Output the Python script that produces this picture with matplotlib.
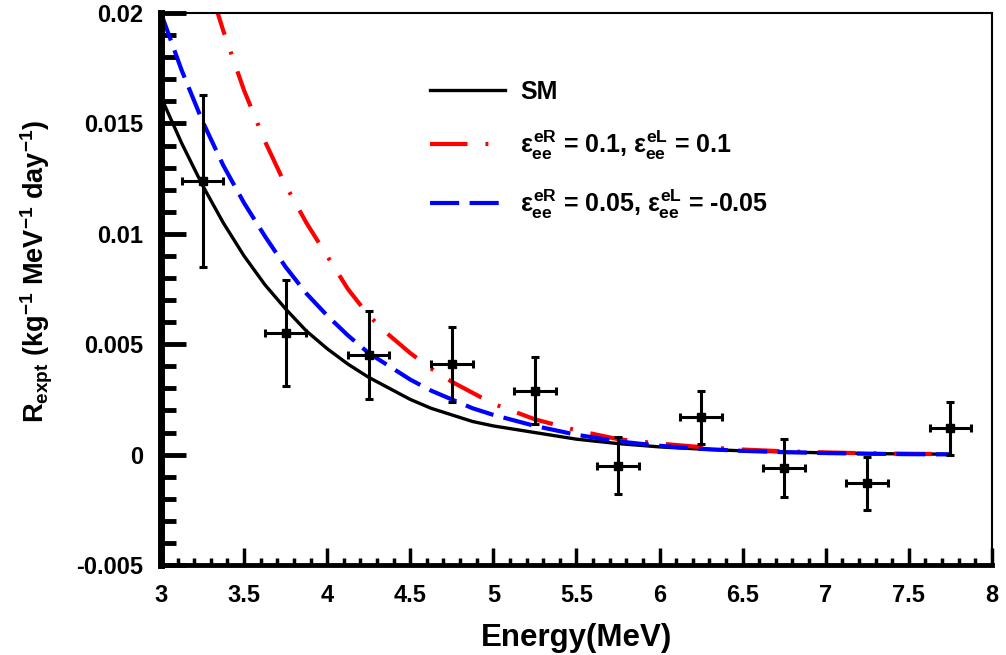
import numpy as np
import matplotlib.pyplot as plt

plt.rcParams['font.family'] = 'Liberation Sans'
plt.rcParams['font.weight'] = 'bold'
plt.rcParams['axes.labelweight'] = 'bold'
plt.rcParams['mathtext.fontset'] = 'custom'
plt.rcParams['mathtext.rm'] = 'Liberation Sans:bold'
plt.rcParams['mathtext.it'] = 'Liberation Sans:bold'
plt.rcParams['mathtext.bf'] = 'Liberation Sans:bold'
plt.rcParams['axes.unicode_minus'] = False

# measured points (bin centres, rate, errors)
energy = [3.25, 3.75, 4.25, 4.75, 5.25, 5.75, 6.25, 6.75, 7.25, 7.75]
rate = [0.0124, 0.0055, 0.0045, 0.0041, 0.0029, -0.0005, 0.0017, -0.0006, -0.0013, 0.0012]
rate_err = [0.0039, 0.0024, 0.0020, 0.0017, 0.0015, 0.0013, 0.0012, 0.0013, 0.0012, 0.0012]
energy_err = 0.125

# theory curves
e_th = [3.0, 3.125, 3.25, 3.375, 3.5, 3.625, 3.75, 3.875, 4.0, 4.125, 4.25, 4.375, 4.5,
        4.625, 4.75, 4.875, 5.0, 5.25, 5.5, 5.75, 6.0, 6.25, 6.5, 6.75, 7.0, 7.25, 7.5, 7.75]
r_sm = [0.0162, 0.0141, 0.0122, 0.0105, 0.0090, 0.0077, 0.0066, 0.0056, 0.0048, 0.0041,
        0.0035, 0.0030, 0.0025, 0.0021, 0.0018, 0.0015, 0.0013, 0.0010, 0.0007, 0.0005,
        0.00035, 0.00025, 0.00017, 0.00012, 0.00008, 0.00005, 0.00003, 0.00002]
r_red = [0.0292, 0.0256, 0.0222, 0.0192, 0.0165, 0.0142, 0.0122, 0.0105, 0.0090, 0.0075,
         0.0063, 0.0054, 0.0046, 0.0039, 0.0033, 0.0028, 0.0023, 0.0016, 0.0011, 0.0007,
         0.0005, 0.00034, 0.00023, 0.00015, 0.0001, 0.00006, 0.00004, 0.00002]
r_blue = [0.0200, 0.0174, 0.0151, 0.0131, 0.0114, 0.0099, 0.0085, 0.0073, 0.0063, 0.0054,
          0.0046, 0.0040, 0.0034, 0.0029, 0.0025, 0.0021, 0.0018, 0.0013, 0.0009, 0.0006,
          0.0004, 0.00026, 0.00017, 0.00011, 0.00007, 0.00004, 0.00002, 0.00001]

fig = plt.figure(figsize=(10.06, 6.55), dpi=100)
ax = fig.add_axes([0.160, 0.1374, 0.826, 0.8426])

ax.plot(e_th, r_sm, color='black', lw=2.4, label='SM')
ax.plot(e_th, r_red, color='red', lw=3, dashes=(9, 4.3, 0.7, 4.3),
        label=r'$\varepsilon_{ee}^{eR}$ = 0.1, $\varepsilon_{ee}^{eL}$ = 0.1')
ax.plot(e_th, r_blue, color='blue', lw=3, dashes=(7, 2.5),
        label=r'$\varepsilon_{ee}^{eR}$ = 0.05, $\varepsilon_{ee}^{eL}$ = -0.05')

ax.errorbar(energy, rate, xerr=energy_err, yerr=rate_err, fmt='s', color='black',
            ms=6, elinewidth=2.2, capsize=2.8, capthick=2.2)

ax.set_xlim(3, 8)
ax.set_ylim(-0.005, 0.02)
ax.set_xticks(np.arange(3, 8.01, 0.5))
ax.set_xticklabels(['3', '3.5', '4', '4.5', '5', '5.5', '6', '6.5', '7', '7.5', '8'])
ax.set_xticks(np.arange(3, 8.01, 0.1), minor=True)
ax.set_yticks([-0.005, 0, 0.005, 0.01, 0.015, 0.02])
ax.set_yticklabels(['-0.005', '0', '0.005', '0.01', '0.015', '0.02'])
ax.set_yticks(np.arange(-0.005, 0.0201, 0.001), minor=True)

ax.tick_params(axis='y', which='major', direction='in', length=18, width=3.5,
               labelsize=17, pad=13)
ax.tick_params(axis='y', which='minor', direction='in', length=11, width=3.5)
ax.tick_params(axis='x', which='major', direction='in', length=12, width=2.5,
               labelsize=17, pad=14)
ax.tick_params(axis='x', which='minor', direction='in', length=5, width=2.5)

ax.spines['left'].set_linewidth(5)
ax.spines['bottom'].set_linewidth(3.5)
ax.spines['top'].set_linewidth(1.5)
ax.spines['right'].set_linewidth(1.5)

ax.set_xlabel('Energy(MeV)', fontsize=22.5)
ax.xaxis.set_label_coords(0.5, -0.105)
ax.set_ylabel(r'R$_{\rm expt}$ (kg$^{-1}$ MeV$^{-1}$ day$^{-1}$)', fontsize=19.5)
ax.yaxis.set_label_coords(-0.128, 0.532)

ax.legend(loc='upper left', bbox_to_anchor=(0.297, 0.92), frameon=False, fontsize=18,
          handlelength=3.0, labelspacing=1.0, handletextpad=0.6)

fig.savefig('out.png', dpi=100)
